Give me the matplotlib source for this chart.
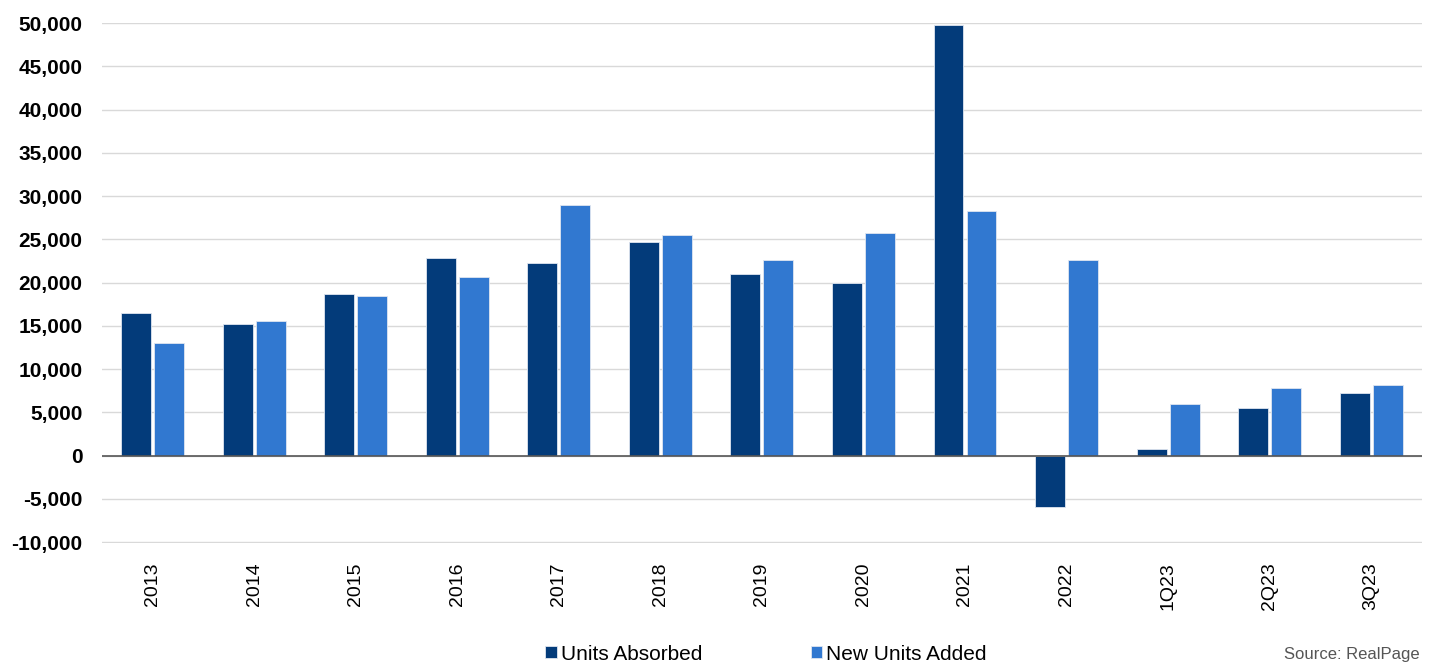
import numpy as np
import matplotlib.pyplot as plt
from matplotlib.ticker import FuncFormatter

# ── Data ─────────────────────────────────────────────────────────────────────
periods = ["2013", "2014", "2015", "2016", "2017", "2018", "2019",
           "2020", "2021", "2022", "1Q23", "2Q23", "3Q23"]
units_absorbed = [16500, 15150, 18700, 22850, 22200, 24700, 21000,
                  19900, 49800, -6000, 750, 5450, 7200]
new_units_added = [12950, 15500, 18400, 20600, 29000, 25550, 22550,
                   25700, 28300, 22650, 5950, 7750, 8100]

DARK = "#033b7a"
LIGHT = "#3178d0"

plt.rcParams["font.family"] = ["Liberation Sans", "DejaVu Sans"]

fig = plt.figure(figsize=(14.34, 6.65), dpi=100)
ax = fig.add_axes([0.071, 0.183, 0.9206, 0.7824])

x = np.arange(len(periods))
w = 0.295
gap = 0.015
ax.bar(x - w / 2 - gap, units_absorbed, w, color=DARK, edgecolor="#dfe6f0",
       linewidth=0.6, label="Units Absorbed", zorder=3)
ax.bar(x + w / 2 + gap, new_units_added, w, color=LIGHT, edgecolor="#dfe6f0",
       linewidth=0.6, label="New Units Added", zorder=3)

ax.set_xlim(-0.5, len(periods) - 0.5)
ax.set_ylim(-10150, 50000)
ax.set_yticks(np.arange(-10000, 50001, 5000))
ax.yaxis.set_major_formatter(FuncFormatter(lambda v, _: f"{int(v):,}"))
ax.grid(axis="y", color="#d9d9d9", linewidth=1.0, zorder=0)
ax.axhline(0, color="#555555", linewidth=1.2, zorder=4)

for s in ax.spines.values():
    s.set_visible(False)
ax.tick_params(axis="both", length=0)
ax.tick_params(axis="y", labelsize=15, pad=14)
for lab in ax.get_yticklabels():
    lab.set_fontweight("bold")

ax.set_xticks(x)
ax.set_xticklabels(periods, rotation=90, fontsize=14)
ax.tick_params(axis="x", pad=14)

leg = fig.legend(loc="center", bbox_to_anchor=(766 / 1434, 1 - 654 / 665),
                 ncol=2, frameon=False, fontsize=15, handlelength=0.55,
                 handleheight=0.55, handletextpad=0.2, columnspacing=5.2)

fig.text(0.99, 1 - 655 / 665, "Source: RealPage", ha="right", va="center",
         fontsize=12, color="#555555")

fig.savefig("out.png", dpi=100)
